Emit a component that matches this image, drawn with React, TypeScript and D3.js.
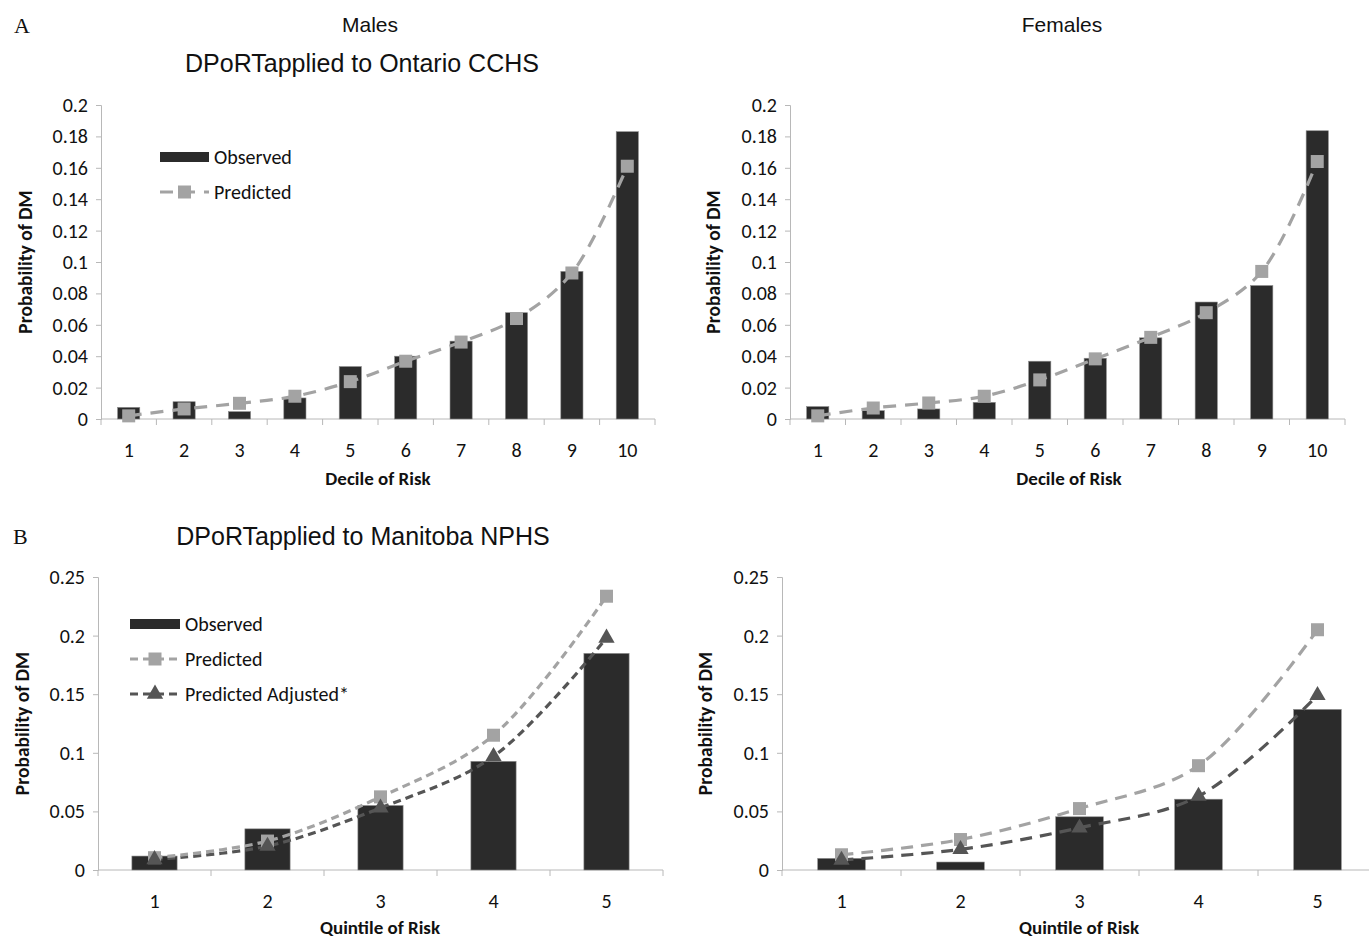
import React, { useEffect, useRef } from "react";
import * as d3 from "d3";

// deciles (panel A) and quintiles (panel B)
const deciles = ["1", "2", "3", "4", "5", "6", "7", "8", "9", "10"];
const quintiles = ["1", "2", "3", "4", "5"];

const maleDecObserved = [0.0074, 0.011, 0.0047, 0.0134, 0.0334, 0.040, 0.0496, 0.0677, 0.094, 0.183];
const maleDecPredicted = [0.002, 0.0064, 0.010, 0.0145, 0.0238, 0.0368, 0.049, 0.064, 0.093, 0.161];
const femaleDecObserved = [0.0079, 0.0053, 0.0064, 0.0106, 0.0368, 0.0387, 0.0517, 0.0745, 0.085, 0.1836];
const femaleDecPredicted = [0.002, 0.007, 0.0102, 0.0145, 0.0249, 0.0383, 0.052, 0.0677, 0.094, 0.164];

const maleQuiObserved = [0.0119, 0.0351, 0.055, 0.0927, 0.1848];
const maleQuiPredicted = [0.0105, 0.0247, 0.0624, 0.115, 0.2336];
const maleQuiAdjusted = [0.009, 0.0204, 0.053, 0.097, 0.198];
const femaleQuiObserved = [0.0099, 0.0068, 0.0454, 0.0604, 0.137];
const femaleQuiPredicted = [0.013, 0.026, 0.0524, 0.089, 0.205];
const femaleQuiAdjusted = [0.0085, 0.0176, 0.036, 0.063, 0.149];

const decTicks = [0, 0.02, 0.04, 0.06, 0.08, 0.1, 0.12, 0.14, 0.16, 0.18, 0.2];
const quiTicks = [0, 0.05, 0.1, 0.15, 0.2, 0.25];

const TICK_FONT = "Carlito, 'Liberation Sans Narrow', 'Open Sans', sans-serif";
const TITLE_FONT = "'Liberation Sans', Arial, sans-serif";
const SERIF = "'Liberation Serif', 'DejaVu Serif', serif";

const BAR = "#2b2b2b";
const PRED = "#a3a3a3";
const ADJ = "#555555";
const AXIS = "#b8b8b8";
const INK = "#111";

function drawPanel(svg, p) {
  const g = svg.append("g");
  const x = d3.scaleBand().domain(p.cats).range([p.x0, p.x1]).paddingInner(p.pad).paddingOuter(p.pad / 2);
  const y = d3.scaleLinear().domain([0, p.ymax]).range([p.y0, p.y1]);

  // y axis
  const ya = g.append("g").attr("transform", `translate(${p.x0},0)`)
    .call(d3.axisLeft(y).tickValues(p.ticks).tickSize(5).tickPadding(8).tickFormat((d) => String(+(+d).toFixed(2))));
  ya.select(".domain").attr("stroke", AXIS);
  ya.selectAll(".tick line").attr("stroke", AXIS);
  ya.selectAll("text").attr("font-family", TICK_FONT).attr("font-size", 20).attr("fill", INK);

  // x axis, ticks between categories
  const xa = g.append("g").attr("transform", `translate(0,${p.y0})`);
  xa.append("line").attr("x1", p.x0).attr("x2", p.x1).attr("stroke", AXIS);
  const step = x.step();
  const bounds = d3.range(p.cats.length + 1).map((i) => p.x0 + i * step);
  xa.selectAll("line.tk").data(bounds).enter().append("line").attr("class", "tk")
    .attr("x1", (d) => d).attr("x2", (d) => d).attr("y1", 0).attr("y2", 6).attr("stroke", AXIS);
  xa.selectAll("text").data(p.cats).enter().append("text")
    .attr("x", (d) => x(d) + x.bandwidth() / 2).attr("y", 31).attr("dy", "0.35em")
    .attr("text-anchor", "middle").attr("font-family", TICK_FONT).attr("font-size", 20).attr("fill", INK)
    .text((d) => d);

  // bars
  g.selectAll("rect.bar").data(p.observed).enter().append("rect").attr("class", "bar")
    .attr("x", (_, i) => x(p.cats[i]))
    .attr("y", (d) => y(d))
    .attr("width", x.bandwidth())
    .attr("height", (d) => p.y0 - y(d))
    .attr("fill", BAR).attr("stroke", "#8a8a8a").attr("stroke-width", 0.6);

  const cx = (i) => x(p.cats[i]) + x.bandwidth() / 2;
  const line = d3.line().x((_, i) => cx(i)).y((d) => y(d)).curve(d3.curveCatmullRom.alpha(0.5));

  if (p.adjusted) {
    g.append("path").attr("d", line(p.adjusted)).attr("fill", "none").attr("stroke", ADJ)
      .attr("stroke-width", 3.2).attr("stroke-dasharray", p.dash);
  }
  g.append("path").attr("d", line(p.predicted)).attr("fill", "none").attr("stroke", PRED)
    .attr("stroke-width", 3.2).attr("stroke-dasharray", p.dash);

  const sq = 13;
  g.selectAll("rect.pt").data(p.predicted).enter().append("rect").attr("class", "pt")
    .attr("x", (_, i) => cx(i) - sq / 2).attr("y", (d) => y(d) - sq / 2)
    .attr("width", sq).attr("height", sq).attr("fill", PRED);

  if (p.adjusted) {
    const tri = d3.symbol().type(d3.symbolTriangle).size(115);
    g.selectAll("path.tri").data(p.adjusted).enter().append("path").attr("class", "tri")
      .attr("d", tri).attr("transform", (d, i) => `translate(${cx(i)},${y(d)})`).attr("fill", ADJ);
  }

  // axis titles
  g.append("text").attr("transform", `translate(${p.ylabX},${(p.y0 + p.y1) / 2}) rotate(-90)`)
    .attr("dy", "0.35em").attr("text-anchor", "middle").attr("font-family", TICK_FONT).attr("font-weight", "bold")
    .attr("font-size", 19.5).attr("fill", INK).text("Probability of DM");
  g.append("text").attr("x", p.xlab[0]).attr("y", p.xlab[1]).attr("dy", "0.35em")
    .attr("text-anchor", "middle").attr("font-family", TICK_FONT).attr("font-weight", "bold")
    .attr("font-size", 19).attr("fill", INK).text(p.xtitle);

  // legend
  if (p.legend) {
    const L = p.legend;
    const lg = g.append("g").attr("transform", `translate(${L.x},${L.y})`);
    const txt = (yy, s) => lg.append("text").attr("x", L.tx).attr("y", yy).attr("dy", "0.35em")
      .attr("font-family", TICK_FONT).attr("font-size", 20).attr("fill", INK).text(s);
    lg.append("rect").attr("x", 0).attr("y", -5).attr("width", L.w).attr("height", 10).attr("fill", BAR);
    txt(0, "Observed");
    lg.append("line").attr("x1", 0).attr("x2", L.w).attr("y1", L.gap).attr("y2", L.gap)
      .attr("stroke", PRED).attr("stroke-width", 3.2).attr("stroke-dasharray", p.dash);
    lg.append("rect").attr("x", L.w / 2 - sq / 2).attr("y", L.gap - sq / 2).attr("width", sq).attr("height", sq).attr("fill", PRED);
    txt(L.gap, "Predicted");
    if (p.adjusted) {
      lg.append("line").attr("x1", 0).attr("x2", L.w).attr("y1", 2 * L.gap).attr("y2", 2 * L.gap)
        .attr("stroke", ADJ).attr("stroke-width", 3.2).attr("stroke-dasharray", p.dash);
      lg.append("path").attr("d", d3.symbol().type(d3.symbolTriangle).size(115)())
        .attr("transform", `translate(${L.w / 2},${2 * L.gap})`).attr("fill", ADJ);
      txt(2 * L.gap, "Predicted Adjusted*");
    }
  }
}

export default function App() {
  const ref = useRef(null);
  useEffect(() => {
    document.body.style.margin = "0";
    const svg = d3.select(ref.current);
    svg.selectAll("*").remove();

    const title = (x, y, s, size, font, anchor = "middle") =>
      svg.append("text").attr("x", x).attr("y", y).attr("dy", "0.35em").attr("text-anchor", anchor)
        .attr("font-family", font).attr("font-size", size).attr("fill", INK).text(s);

    title(14, 25, "A", 22, SERIF, "start");
    title(370, 25, "Males", 21, TITLE_FONT);
    title(1062, 25, "Females", 21, TITLE_FONT);
    title(362, 63, "DPoRTapplied to Ontario CCHS", 25, TITLE_FONT);
    title(13, 536, "B", 22, SERIF, "start");
    title(363, 536, "DPoRTapplied to Manitoba NPHS", 25, TITLE_FONT);

    drawPanel(svg, {
      cats: deciles, observed: maleDecObserved, predicted: maleDecPredicted,
      x0: 101, x1: 655, y0: 419, y1: 105, ymax: 0.2, ticks: decTicks, pad: 0.6,
      dash: "13,9", ylabX: 25, xlab: [378, 478], xtitle: "Decile of Risk",
      legend: { x: 160, y: 157, w: 49, tx: 54, gap: 35 },
    });
    drawPanel(svg, {
      cats: deciles, observed: femaleDecObserved, predicted: femaleDecPredicted,
      x0: 790, x1: 1345, y0: 419, y1: 105, ymax: 0.2, ticks: decTicks, pad: 0.6,
      dash: "13,9", ylabX: 713, xlab: [1069, 478], xtitle: "Decile of Risk",
    });
    drawPanel(svg, {
      cats: quintiles, observed: maleQuiObserved, predicted: maleQuiPredicted, adjusted: maleQuiAdjusted,
      x0: 98, x1: 663, y0: 870, y1: 577, ymax: 0.25, ticks: quiTicks, pad: 0.6,
      dash: "8,5", ylabX: 22, xlab: [380, 927], xtitle: "Quintile of Risk",
      legend: { x: 130, y: 624, w: 50, tx: 55, gap: 35 },
    });
    drawPanel(svg, {
      cats: quintiles, observed: femaleQuiObserved, predicted: femaleQuiPredicted, adjusted: femaleQuiAdjusted,
      x0: 782, x1: 1377, y0: 870, y1: 577, ymax: 0.25, ticks: quiTicks, pad: 0.6,
      dash: "12,8", ylabX: 705, xlab: [1079, 927], xtitle: "Quintile of Risk",
    });
  }, []);

  return <svg ref={ref} width={1369} height={941} style={{ display: "block", background: "#fff" }} />;
}
